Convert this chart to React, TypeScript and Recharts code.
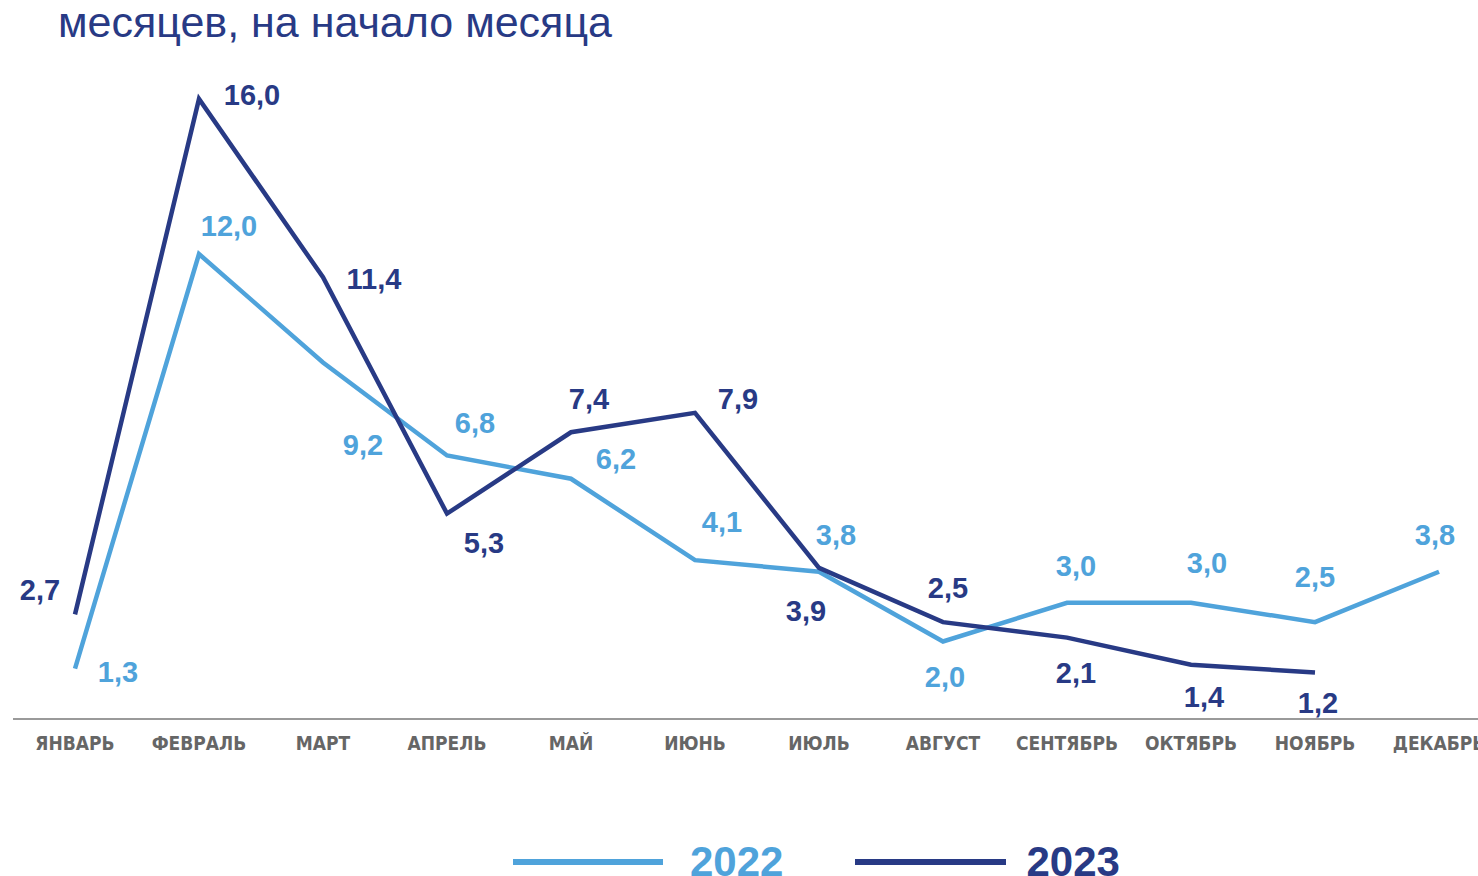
import { LineChart, Line, XAxis, YAxis, LabelList } from "recharts";

const months = [
  "ЯНВАРЬ",
  "ФЕВРАЛЬ",
  "МАРТ",
  "АПРЕЛЬ",
  "МАЙ",
  "ИЮНЬ",
  "ИЮЛЬ",
  "АВГУСТ",
  "СЕНТЯБРЬ",
  "ОКТЯБРЬ",
  "НОЯБРЬ",
  "ДЕКАБРЬ",
];
const values2022 = [1.3, 12.0, 9.2, 6.8, 6.2, 4.1, 3.8, 2.0, 3.0, 3.0, 2.5, 3.8];
const values2023 = [2.7, 16.0, 11.4, 5.3, 7.4, 7.9, 3.9, 2.5, 2.1, 1.4, 1.2, null];

// label offsets from the point, [dx, dy]
const offsets2022 = [
  [43, 3], [30, -28], [40, 82], [28, -33], [45, -20], [27, -38],
  [17, -37], [2, 35], [9, -37], [16, -40], [0, -45], [-4, -37],
];
const offsets2023 = [
  [-35, -24], [53, -4], [51, 2], [37, 29], [18, -33], [43, -14],
  [-13, 43], [5, -34], [9, 35], [13, 32], [3, 30], [0, 0],
];

const LIGHT = "#4FA3DB";
const DARK = "#283A85";
const NARROW = '"Liberation Sans Narrow", "Arial Narrow", "DejaVu Sans Condensed", sans-serif';
const ARIAL = '"Liberation Sans", Arial, sans-serif';

const data = months.map((m, i) => ({
  month: m,
  y2022: values2022[i],
  y2023: values2023[i],
}));

const fmt = (v: number) => v.toFixed(1).replace(".", ",");

function makeLabel(offsets: number[][], color: string) {
  return (props: any) => {
    const { x, y, value, index } = props;
    if (value == null) return null;
    const [dx, dy] = offsets[index];
    return (
      <text
        x={x + dx}
        y={y + dy}
        textAnchor="middle"
        dominantBaseline="central"
        fill={color}
        fontFamily={ARIAL}
        fontWeight="bold"
        fontSize={29}
      >
        {fmt(value)}
      </text>
    );
  };
}

function MonthTick(props: any) {
  const { x, y, payload } = props;
  return (
    <text
      x={x}
      y={y + 31}
      textAnchor="middle"
      fill="#666666"
      fontFamily={NARROW}
      fontWeight="bold"
      fontSize={19}
    >
      {payload.value}
    </text>
  );
}

export default function App() {
  return (
    <div
      style={{
        position: "fixed",
        left: 0,
        top: 0,
        width: 1478,
        height: 876,
        overflow: "hidden",
        background: "#fff",
      }}
    >
      <div
        style={{
          position: "absolute",
          left: 58,
          top: 1,
          fontFamily: ARIAL,
          fontSize: 43,
          lineHeight: "43px",
          color: DARK,
          whiteSpace: "nowrap",
        }}
      >
        месяцев, на начало месяца
      </div>

      <div style={{ position: "absolute", left: 0, top: 2 }}>
        <LineChart
          width={1501}
          height={800}
          data={data}
          margin={{ top: 97, right: 0, bottom: 43, left: 13 }}
        >
          <XAxis
            dataKey="month"
            padding={{ left: 62, right: 62 }}
            axisLine={{ stroke: "#9A9A9A", strokeWidth: 2 }}
            tickLine={false}
            tickSize={0}
            tickMargin={0}
            height={40}
            interval={0}
            tick={<MonthTick />}
          />
          <YAxis hide domain={[0, 16]} />
          <Line
            type="linear"
            dataKey="y2022"
            stroke={LIGHT}
            strokeWidth={4.5}
            dot={false}
            isAnimationActive={false}
          >
            <LabelList dataKey="y2022" content={makeLabel(offsets2022, LIGHT)} />
          </Line>
          <Line
            type="linear"
            dataKey="y2023"
            stroke={DARK}
            strokeWidth={4.5}
            dot={false}
            isAnimationActive={false}
          >
            <LabelList dataKey="y2023" content={makeLabel(offsets2023, DARK)} />
          </Line>
        </LineChart>
      </div>

      <div
        style={{
          position: "absolute",
          left: 513,
          top: 838,
          display: "flex",
          alignItems: "center",
          fontFamily: ARIAL,
          fontWeight: "bold",
          fontSize: 42,
          lineHeight: "48px",
        }}
      >
        <span style={{ width: 150, height: 6, background: LIGHT, display: "inline-block" }} />
        <span style={{ color: LIGHT, marginLeft: 27 }}>2022</span>
        <span
          style={{ width: 151, height: 6, background: DARK, display: "inline-block", marginLeft: 72 }}
        />
        <span style={{ color: DARK, marginLeft: 20 }}>2023</span>
      </div>
    </div>
  );
}
